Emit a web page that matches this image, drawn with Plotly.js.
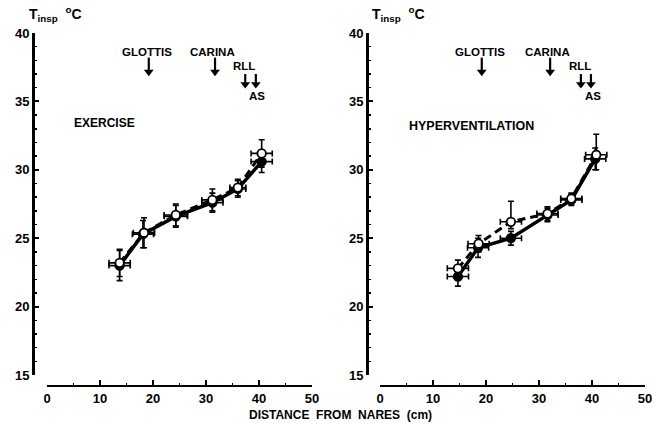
<!DOCTYPE html>
<html>
<head>
<meta charset="utf-8">
<script src="https://cdn.plot.ly/plotly-3.0.1.min.js"></script>
<style>html,body{margin:0;padding:0;background:#fff;}#chart{width:653px;height:423px;}</style>
</head>
<body>
<div id="chart"></div>
<script>
// ---- Exercise panel data ----
const exSolidX = [13.7, 18.1, 24.3, 31.2, 36.0, 40.5];
const exSolidY = [23.0, 25.3, 26.6, 27.6, 28.6, 30.6];
const exSolidYErr = [1.1, 1.0, 0.8, 0.7, 0.6, 0.8];
const exSolidXErr = [2.0, 2.0, 2.2, 2.0, 1.5, 2.0];
const exOpenX = [13.7, 18.3, 24.3, 31.2, 36.0, 40.5];
const exOpenY = [23.2, 25.4, 26.7, 27.8, 28.7, 31.2];
const exOpenYErr = [1.0, 1.1, 0.8, 0.8, 0.6, 1.0];
const exOpenXErr = [2.0, 2.0, 2.2, 2.0, 1.5, 2.0];

// ---- Hyperventilation panel data ----
const hvSolidX = [14.7, 18.5, 24.7, 31.6, 36.1, 40.6];
const hvSolidY = [22.2, 24.3, 25.0, 26.7, 27.8, 30.8];
const hvSolidYErr = [0.7, 0.7, 0.5, 0.5, 0.4, 0.8];
const hvSolidXErr = [2.0, 2.0, 2.0, 2.0, 2.0, 2.0];
const hvOpenX = [14.7, 18.6, 24.7, 31.6, 36.1, 40.8];
const hvOpenY = [22.8, 24.6, 26.2, 26.8, 27.9, 31.1];
const hvOpenYErrPlus = [0.6, 0.6, 1.5, 0.5, 0.4, 1.5];
const hvOpenYErrMinus = [0.6, 0.6, 0.5, 0.5, 0.4, 1.1];
const hvOpenXErr = [2.0, 2.0, 2.0, 2.0, 2.0, 2.0];

// ---- landmark labels and arrows ----
const landmarkNames = ["GLOTTIS", "CARINA", "RLL", "AS"];
const exLandmarkX = [19.2, 31.7, 37.4, 39.4];
const hvLandmarkX = [19.2, 32.1, 37.9, 39.8];
const arrowTop = [38.2, 38.2, 37.0, 37.0];
const arrowTip = [36.9, 36.9, 36.0, 36.0];
const panelNames = ["EXERCISE", "HYPERVENTILATION"];
const xTickVals = [0, 10, 20, 30, 40, 50];
const yTickVals = [15, 20, 25, 30, 35, 40];

const FONT = "Liberation Sans, Arial, Helvetica, sans-serif";

function series(x, y, ex, eyPlus, eyMinus, open, xa, ya) {
  return {
    type: 'scatter', mode: 'lines+markers', x: x, y: y, xaxis: xa, yaxis: ya,
    line: {color: '#000', width: open ? 3 : 3.5, dash: open ? '8px,5px' : 'solid'},
    marker: {size: 8.5, color: open ? '#fff' : '#000', line: {color: '#000', width: 1.8}},
    error_y: {type: 'data', array: eyPlus, arrayminus: eyMinus || eyPlus, symmetric: !eyMinus,
              color: '#000', thickness: 1.6, width: 3},
    error_x: {type: 'data', array: ex, color: '#000', thickness: 1.6, width: 3},
    showlegend: false, hoverinfo: 'skip'
  };
}

function arrowShafts(xs, xa, ya) {
  const X = [], Y = [];
  xs.forEach((x, i) => { X.push(x, x, null); Y.push(arrowTop[i], arrowTip[i] + 0.35, null); });
  return {type: 'scatter', mode: 'lines', x: X, y: Y, xaxis: xa, yaxis: ya,
    line: {color: '#000', width: 2.2}, showlegend: false, hoverinfo: 'skip'};
}
function arrowHeads(xs, xa, ya) {
  return {type: 'scatter', mode: 'markers', x: xs, y: arrowTip.map(t => t + 0.25), xaxis: xa, yaxis: ya,
    marker: {symbol: 'triangle-down', size: 8.5, color: '#000', line: {width: 0}},
    showlegend: false, hoverinfo: 'skip'};
}

const data = [
  series(exSolidX, exSolidY, exSolidXErr, exSolidYErr, null, false, 'x', 'y'),
  series(exOpenX, exOpenY, exOpenXErr, exOpenYErr, null, true, 'x', 'y'),
  series(hvSolidX, hvSolidY, hvSolidXErr, hvSolidYErr, null, false, 'x2', 'y2'),
  series(hvOpenX, hvOpenY, hvOpenXErr, hvOpenYErrPlus, hvOpenYErrMinus, true, 'x2', 'y2'),
  arrowShafts(exLandmarkX, 'x', 'y'), arrowHeads(exLandmarkX, 'x', 'y'),
  arrowShafts(hvLandmarkX, 'x2', 'y2'), arrowHeads(hvLandmarkX, 'x2', 'y2')
];

const tickFont = {family: FONT, size: 13, color: '#000', weight: 'bold'};

function xAxis(domain) {
  return {
    domain: domain, range: [0, 50], anchor: 'free', position: 0,
    showline: true, linewidth: 2, linecolor: '#000', showgrid: false, zeroline: false,
    ticks: 'inside', ticklen: 5, tickwidth: 2, tickcolor: '#000',
    tickvals: xTickVals, ticktext: xTickVals.map(String),
    minor: {dtick: 5, ticks: 'inside', ticklen: 2, tickwidth: 1.5, tickcolor: '#000'},
    tickfont: tickFont, fixedrange: true
  };
}
function yAxis(position, domainLow) {
  return {
    domain: [domainLow, 1], range: [15, 40], anchor: 'free', position: position,
    showline: true, linewidth: 3, linecolor: '#000', showgrid: false, zeroline: false,
    ticks: 'inside', ticklen: 4, tickwidth: 2, tickcolor: '#000',
    tickvals: yTickVals, ticktext: yTickVals.map(String),
    minor: {dtick: 1, ticks: 'inside', ticklen: 2, tickwidth: 1.5, tickcolor: '#000'},
    tickfont: tickFont, fixedrange: true
  };
}

const annFont = {family: FONT, size: 11.5, color: '#000', weight: 'bold'};
const annotations = [];
function landmarks(xs, xa, ya, labelY) {
  const labelYs = [labelY, labelY, 37.6, 35.4];
  const labelXs = [xs[0] - 0.3, xs[1] - 0.5, xs[2] - 0.2, xs[3] + 0.3];
  landmarkNames.forEach((n, i) => {
    annotations.push({xref: xa, yref: ya, x: labelXs[i], y: labelYs[i], text: n, showarrow: false,
      font: annFont, xanchor: 'center', yanchor: 'middle'});
  });
}
landmarks(exLandmarkX, 'x', 'y', 38.6);
landmarks(hvLandmarkX, 'x2', 'y2', 38.6);
annotations.push({xref: 'x', yref: 'y', x: 4.7, y: 33.4, text: panelNames[0], showarrow: false,
  font: {family: FONT, size: 12, color: '#000', weight: 'bold'}, xanchor: 'left', yanchor: 'middle'});
annotations.push({xref: 'x2', yref: 'y2', x: 5.1, y: 33.2, text: panelNames[1], showarrow: false,
  font: {family: FONT, size: 12.5, color: '#000', weight: 'bold'}, xanchor: 'left', yanchor: 'middle'});
// y-axis titles
const yTitle = 'T<sub>insp</sub>\u00A0\u00A0<sup>o</sup>C';
annotations.push({xref: 'paper', yref: 'paper', x: -0.01, y: 1.02, text: yTitle, showarrow: false,
  font: {family: FONT, size: 14, color: '#000', weight: 'bold'}, xanchor: 'left', yanchor: 'bottom'});
annotations.push({xref: 'paper', yref: 'paper', x: 0.55, y: 1.02, text: yTitle, showarrow: false,
  font: {family: FONT, size: 14, color: '#000', weight: 'bold'}, xanchor: 'left', yanchor: 'bottom'});
// shared x title
annotations.push({xref: 'paper', yref: 'paper', x: 0.502, y: -0.082,
  text: 'DISTANCE\u00A0\u00A0FROM\u00A0\u00A0NARES\u00A0\u00A0(cm)',
  showarrow: false, font: {family: FONT, size: 12, color: '#000', weight: 'bold'},
  xanchor: 'center', yanchor: 'middle'});

const layout = {
  width: 653, height: 423,
  margin: {l: 33, r: 8, t: 33, b: 37},
  paper_bgcolor: '#fff', plot_bgcolor: '#fff',
  showlegend: false,
  xaxis: xAxis([0.0229, 0.4559]),
  xaxis2: xAxis([0.567, 1.0]),
  yaxis: yAxis(0, 0.031),
  yaxis2: yAxis(0.5458, 0.031),
  annotations: annotations
};

Plotly.newPlot('chart', data, layout, {displayModeBar: false, staticPlot: true});
</script>
</body>
</html>
